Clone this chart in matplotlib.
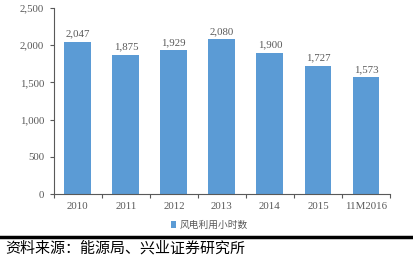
import matplotlib
matplotlib.use('Agg')
import matplotlib.pyplot as plt
import numpy as np

years = ['2010', '2011', '2012', '2013', '2014', '2015', '11M2016']
hours = [2047, 1875, 1929, 2080, 1900, 1727, 1573]
yticks = [0, 500, 1000, 1500, 2000, 2500]
series_name = '风电利用小时数'
source = '资料来源：能源局、兴业证券研究所'

bar_color = '#5B9BD5'
txt_color = '#595959'
serif = 'Liberation Serif'
cjk = ['Noto Sans CJK SC', 'DejaVu Sans']

fig = plt.figure(figsize=(4.14, 2.58), dpi=100)
ax = fig.add_axes([0.130, 0.248, 0.812, 0.721])

x = np.arange(len(years))
bars = ax.bar(x, hours, width=0.56, color=bar_color, zorder=2, label=series_name)
for xi, v in zip(x, hours):
    ax.text(xi, v + 40, f'{v:,}', ha='center', va='bottom',
            fontsize=7.8, family=serif, color=txt_color)

ax.set_xlim(-0.5, len(years) - 0.5)
ax.set_ylim(0, 2500)
ax.set_yticks(yticks)
ax.set_yticklabels([f'{t:,}' for t in yticks], family=serif, fontsize=7.8, color=txt_color)

ax.set_xticks(np.arange(-0.5, len(years), 1.0))
ax.set_xticklabels([])
ax.set_xticks(x, minor=True)
ax.set_xticklabels(years, minor=True, family=serif, fontsize=7.8, color=txt_color)
ax.tick_params(axis='x', which='minor', length=0, pad=6)
ax.tick_params(axis='x', which='major', length=3, color='#595959', direction='out')
ax.tick_params(axis='y', length=3, color='#595959', direction='out', pad=4)

for s in ['top', 'right']:
    ax.spines[s].set_visible(False)
ax.spines['left'].set_color('#595959')
ax.spines['bottom'].set_color('#595959')
ax.spines['left'].set_linewidth(0.8)
ax.spines['bottom'].set_linewidth(0.8)

leg = fig.legend(handles=[bars], labels=[series_name], loc='center',
                 bbox_to_anchor=(0.505, 0.128), frameon=False,
                 handlelength=0.6, handleheight=0.6, handletextpad=0.3,
                 prop={'family': cjk, 'size': 7})
for t in leg.get_texts():
    t.set_color(txt_color)

# black rule and source line
fig.add_artist(plt.Line2D([0, 1], [0.083, 0.083], color='black', lw=2.5,
                          transform=fig.transFigure))
fig.text(0.012, 0.038, source, ha='left', va='center', fontsize=10.8,
         family=cjk, color='black')

plt.savefig('out.png', dpi=100)
